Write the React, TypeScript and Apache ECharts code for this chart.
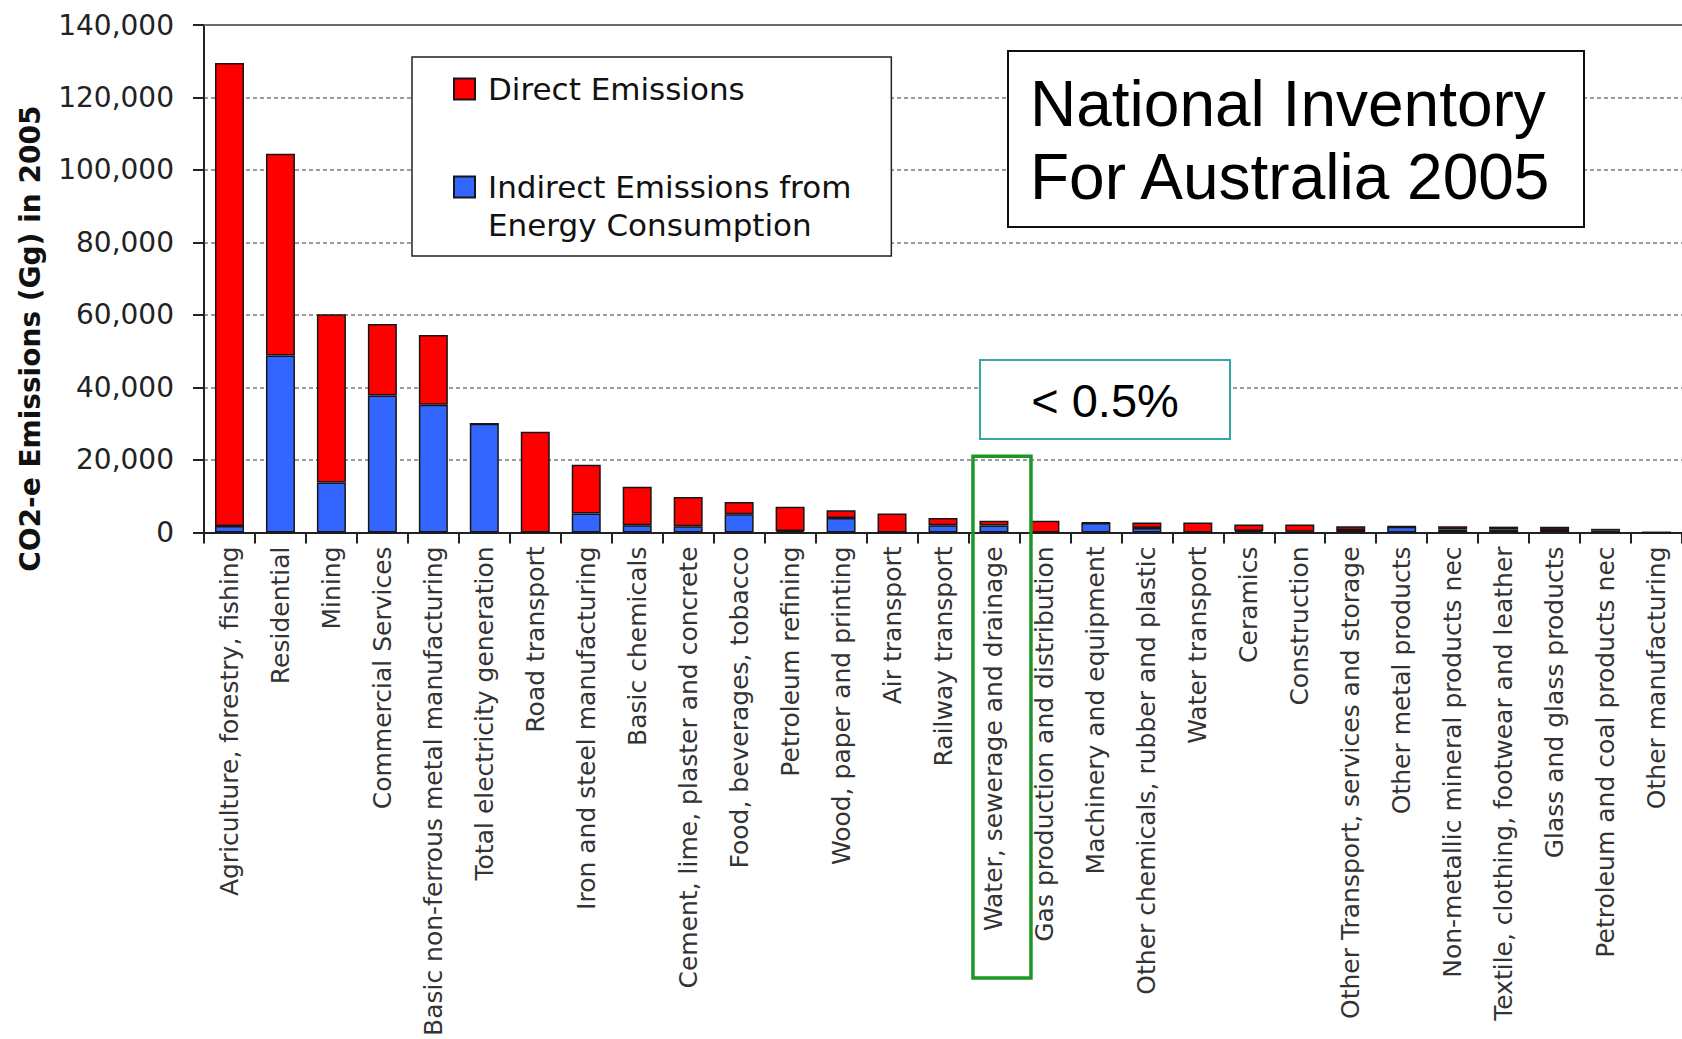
import React, { useEffect, useRef } from "react";
import * as echarts from "echarts";

// Sectors, ordered by total emissions
const CATEGORIES = [
  "Agriculture, forestry, fishing",
  "Residential",
  "Mining",
  "Commercial Services",
  "Basic non-ferrous metal manufacturing",
  "Total electricity generation",
  "Road transport",
  "Iron and steel manufacturing",
  "Basic chemicals",
  "Cement, lime, plaster and concrete",
  "Food, beverages, tobacco",
  "Petroleum refining",
  "Wood, paper and printing",
  "Air transport",
  "Railway transport",
  "Water, sewerage and drainage",
  "Gas production and distribution",
  "Machinery and equipment",
  "Other chemicals, rubber and plastic",
  "Water transport",
  "Ceramics",
  "Construction",
  "Other Transport, services and storage",
  "Other metal products",
  "Non-metallic mineral products nec",
  "Textile, clothing, footwear and leather",
  "Glass and glass products",
  "Petroleum and coal products nec",
  "Other manufacturing",
];

// CO2-e emissions in Gg, 2005
const INDIRECT = [
  1800, 48800, 13800, 37800, 35200, 30000, 0, 5200, 2000, 1700, 5000, 400, 4000, 0,
  2000, 1900, 0, 2600, 1200, 0, 400, 200, 700, 1600, 800, 800, 700, 500, 0,
];
const DIRECT = [
  127700, 55700, 46400, 19700, 19300, 0, 27800, 13500, 10600, 8100, 3400, 6700, 2100,
  5200, 2000, 1300, 3200, 150, 1550, 2750, 1800, 2000, 1000, 100, 900, 800, 900, 500, 0,
];

const Y_MIN = 0;
const Y_MAX = 140000;
const Y_STEP = 20000;

const DIRECT_NAME = "Direct Emissions";
const INDIRECT_NAME = "Indirect Emissions from Energy Consumption";
const HIGHLIGHT = "Water, sewerage and drainage";

export default function App() {
  const ref = useRef<HTMLDivElement>(null);

  useEffect(() => {
    if (!ref.current) return;
    const chart = echarts.init(ref.current, null, { renderer: "svg" });

    const barStyle = (color: string) => ({
      color,
      borderColor: "#161616",
      borderWidth: 1.5,
    });

    chart.setOption({
      animation: false,
      backgroundColor: "#ffffff",
      grid: { left: 204, top: 25, right: -11, bottom: 505, containLabel: false },
      legend: {
        left: 412,
        top: 57,
        orient: "vertical",
        padding: [13, 40, 12, 41],
        itemGap: 22,
        itemWidth: 21,
        itemHeight: 21,
        icon: "rect",
        selectedMode: false,
        backgroundColor: "#ffffff",
        borderColor: "#222222",
        borderWidth: 1.5,
        textStyle: {
          fontFamily: "DejaVu Sans",
          fontSize: 31,
          color: "#111111",
          lineHeight: 38,
          padding: [0, 0, 0, 8],
        },
        data: [DIRECT_NAME, INDIRECT_NAME],
        // the leading blank line keeps the swatch level with the first text line
        formatter: (name: string) =>
          name === INDIRECT_NAME ? "\nIndirect Emissions from\nEnergy Consumption" : name,
      },
      xAxis: [
        {
          type: "category",
          data: CATEGORIES,
          axisLine: { lineStyle: { color: "#222222", width: 2 } },
          axisTick: { show: true, length: 11, lineStyle: { color: "#222222", width: 2 } },
          axisLabel: {
            interval: 0,
            rotate: 90,
            margin: 14,
            fontFamily: "DejaVu Sans",
            fontSize: 25,
            color: "#333333",
          },
        },
        {
          type: "category",
          data: CATEGORIES,
          position: "top",
          axisLine: { lineStyle: { color: "#6a6a6a", width: 2 } },
          axisTick: { show: false },
          axisLabel: { show: false },
        },
      ],
      yAxis: {
        type: "value",
        min: Y_MIN,
        max: Y_MAX,
        interval: Y_STEP,
        name: "CO2-e Emissions (Gg) in 2005",
        nameLocation: "middle",
        nameRotate: 90,
        nameGap: 160,
        nameTextStyle: {
          fontFamily: "DejaVu Sans",
          fontWeight: "bold",
          fontSize: 28,
          color: "#111111",
          padding: [0, 120, 0, 0],
        },
        axisLine: { show: true, lineStyle: { color: "#222222", width: 2 } },
        axisTick: { show: true, length: 11, lineStyle: { color: "#222222", width: 2 } },
        axisLabel: {
          margin: 30,
          fontFamily: "DejaVu Sans",
          fontSize: 28,
          color: "#222222",
          formatter: (v: number) => v.toLocaleString("en-US"),
        },
        splitLine: {
          show: true,
          showMinLine: false,
          showMaxLine: false,
          lineStyle: { color: "#9c9c9c", width: 2, type: [4, 3] },
        },
      },
      series: [
        {
          name: INDIRECT_NAME,
          type: "bar",
          stack: "total",
          barWidth: 29,
          data: INDIRECT,
          itemStyle: barStyle("#3366ff"),
        },
        {
          name: DIRECT_NAME,
          type: "bar",
          stack: "total",
          barWidth: 29,
          data: DIRECT,
          itemStyle: barStyle("#ff0000"),
        },
      ],
    });

    // Highlight frame around the water sector, placed from the axis scale
    const [hx] = chart.convertToPixel({ gridIndex: 0 }, [HIGHLIGHT, 0]) as number[];
    const [, hy] = chart.convertToPixel({ gridIndex: 0 }, [HIGHLIGHT, 21000]) as number[];

    chart.setOption({
      graphic: {
        elements: [
          {
            type: "rect",
            z: 100,
            shape: { x: 1008, y: 51, width: 576, height: 176 },
            style: { fill: "#ffffff", stroke: "#111111", lineWidth: 2 },
          },
          {
            type: "text",
            z: 101,
            x: 1030,
            y: 104,
            style: {
              text: "National Inventory",
              fontFamily: "Liberation Sans",
              fontSize: 64,
              fill: "#000000",
              verticalAlign: "middle",
            },
          },
          {
            type: "text",
            z: 101,
            x: 1030,
            y: 177,
            style: {
              text: "For Australia 2005",
              fontFamily: "Liberation Sans",
              fontSize: 64,
              fill: "#000000",
              verticalAlign: "middle",
            },
          },
          {
            type: "rect",
            z: 100,
            shape: { x: 980, y: 360, width: 250, height: 79 },
            style: { fill: "#ffffff", stroke: "#36a6a6", lineWidth: 2 },
          },
          {
            type: "text",
            z: 101,
            x: 1105,
            y: 400,
            style: {
              text: "< 0.5%",
              fontFamily: "Liberation Sans",
              fontSize: 47,
              fill: "#000000",
              align: "center",
              verticalAlign: "middle",
            },
          },
          {
            type: "rect",
            z: 100,
            shape: { x: hx - 21, y: hy, width: 58, height: 978 - hy },
            style: { fill: "none", stroke: "#1f962a", lineWidth: 3.5 },
          },
        ],
      },
    });

    return () => chart.dispose();
  }, []);

  return (
    <div
      ref={ref}
      style={{ position: "fixed", left: 0, top: 0, width: 1682, height: 1039, background: "#fff" }}
    />
  );
}
